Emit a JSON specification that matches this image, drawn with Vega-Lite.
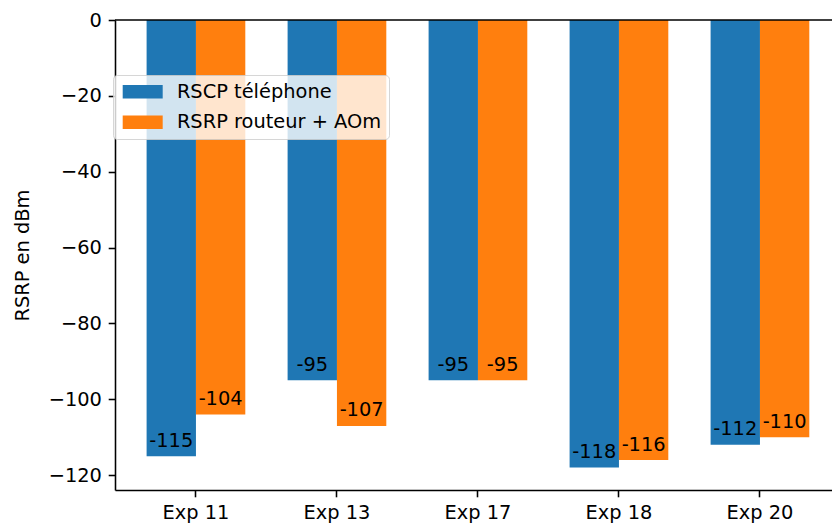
{
  "$schema": "https://vega.github.io/schema/vega-lite/v6.json",
  "autosize": {"type": "none"},
  "padding": {"left": 115, "top": 20, "right": 0, "bottom": 36},
  "width": 717,
  "height": 470,
  "background": "white",
  "config": {
    "view": {"stroke": null},
    "font": "DejaVu Sans",
    "axis": {
      "labelFont": "DejaVu Sans",
      "labelFontSize": 19.4,
      "labelColor": "black",
      "tickColor": "black",
      "tickSize": 6.8,
      "tickWidth": 1.56,
      "domainColor": "black",
      "domainWidth": 1.56,
      "labelPadding": 6.8,
      "grid": false,
      "titleFont": "DejaVu Sans",
      "titleFontSize": 19.4,
      "titleFontWeight": "normal",
      "titleColor": "black"
    },
    "legend": {
      "orient": "none",
      "legendX": -2,
      "legendY": 55,
      "symbolType": "M-2.857,-0.97H2.857V0.97H-2.857Z",
      "symbolSize": 196,
      "symbolStrokeWidth": 0,
      "symbolOpacity": 1,
      "labelFont": "DejaVu Sans",
      "labelFontSize": 19.4,
      "labelColor": "black",
      "labelOffset": 24.5,
      "symbolOffset": 13,
      "padding": 7,
      "rowPadding": 9.6,
      "fillColor": "rgba(255,255,255,0.8)",
      "strokeColor": "rgba(204,204,204,0.8)",
      "cornerRadius": 4,
      "labelLimit": 400
    }
  },
  "data": {
    "values": [
      {"exp": "Exp 11", "series": "RSCP téléphone", "value": -115},
      {"exp": "Exp 11", "series": "RSRP routeur + AOm", "value": -104},
      {"exp": "Exp 13", "series": "RSCP téléphone", "value": -95},
      {"exp": "Exp 13", "series": "RSRP routeur + AOm", "value": -107},
      {"exp": "Exp 17", "series": "RSCP téléphone", "value": -95},
      {"exp": "Exp 17", "series": "RSRP routeur + AOm", "value": -95},
      {"exp": "Exp 18", "series": "RSCP téléphone", "value": -118},
      {"exp": "Exp 18", "series": "RSRP routeur + AOm", "value": -116},
      {"exp": "Exp 20", "series": "RSCP téléphone", "value": -112},
      {"exp": "Exp 20", "series": "RSRP routeur + AOm", "value": -110}
    ]
  },
  "layer": [
    {
      "mark": {"type": "bar"},
      "encoding": {
        "x": {
          "field": "exp", "type": "nominal", "sort": null,
          "scale": {"paddingInner": 0.3, "paddingOuter": 0.19255, "align": 0.582},
          "axis": {"title": null, "labelAngle": 0}
        },
        "xOffset": {
          "field": "series", "type": "nominal",
          "sort": ["RSCP téléphone", "RSRP routeur + AOm"],
          "scale": {"paddingInner": 0, "paddingOuter": 0}
        },
        "y": {
          "field": "value", "type": "quantitative",
          "scale": {"domain": [-123.9, 0], "nice": false, "zero": false},
          "axis": {
            "values": [0, -20, -40, -60, -80, -100, -120],
            "title": "RSRP en dBm",
            "titleX": -93,
            "titleY": 235,
            "titleAngle": 270,
            "titleAlign": "center",
            "titleBaseline": "middle"
          }
        },
        "color": {
          "field": "series", "type": "nominal",
          "scale": {"domain": ["RSCP téléphone", "RSRP routeur + AOm"], "range": ["#1f77b4", "#ff7f0e"]},
          "legend": {"title": null}
        }
      }
    },
    {
      "mark": {"type": "text", "align": "center", "baseline": "alphabetic", "dy": -9.5, "font": "DejaVu Sans", "fontSize": 19.4, "color": "black"},
      "encoding": {
        "x": {"field": "exp", "type": "nominal", "sort": null},
        "xOffset": {"field": "series", "type": "nominal", "sort": ["RSCP téléphone", "RSRP routeur + AOm"]},
        "y": {"field": "value", "type": "quantitative"},
        "text": {"field": "value", "type": "nominal"}
      }
    },
    {
      "data": {"values": [{}]},
      "mark": {"type": "rule", "color": "black", "strokeWidth": 1.56},
      "encoding": {"y": {"datum": 0}}
    }
  ]
}
